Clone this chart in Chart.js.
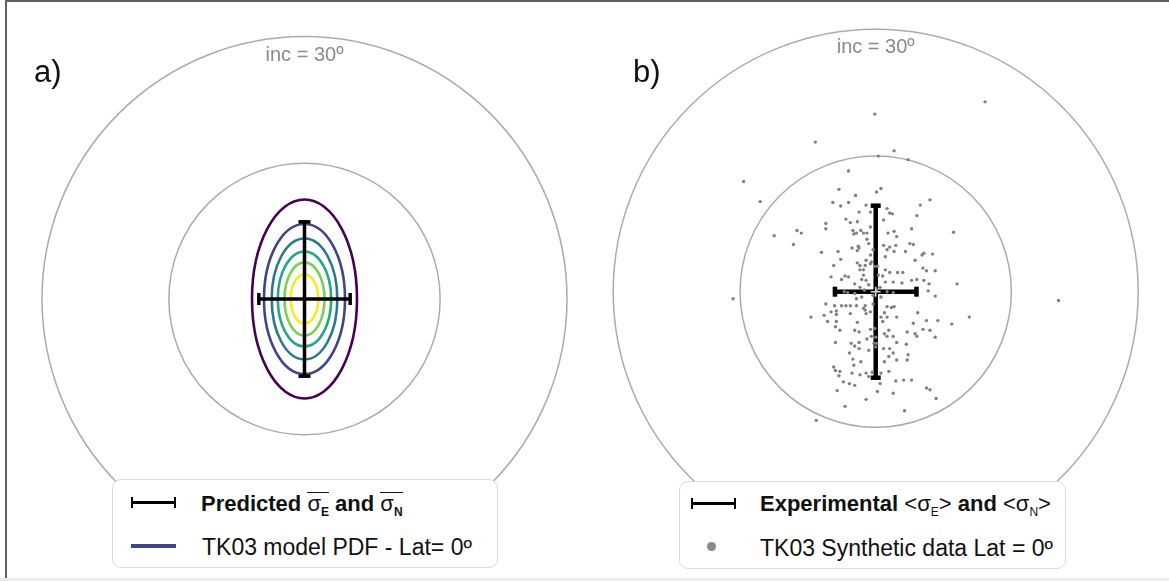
<!DOCTYPE html>
<html>
<head>
<meta charset="utf-8">
<script src="https://cdn.jsdelivr.net/npm/chart.js@4.4.0/dist/chart.umd.min.js"></script>
<style>
  html, body { margin: 0; padding: 0; background: #fff; }
  body { width: 1169px; height: 581px; position: relative; overflow: hidden; font-family: "Liberation Sans", Arial, sans-serif; }
  .frame { position: absolute; left: 5px; top: 0; width: 1164px; height: 578px; border-top: 2px solid #606060; border-left: 2px solid #606060; box-sizing: border-box; }
  .band { position: absolute; left: 0; top: 578px; width: 1169px; height: 3px; background: #ececec; }
  canvas { position: absolute; top: 0; }
  #chartA { left: 0; }
  #chartB { left: 585px; }
  .legend { position: absolute; background: #fff; border: 1.5px solid #dadada; border-radius: 9px; box-sizing: border-box; z-index: 2; }
  .txt { position: absolute; white-space: nowrap; color: #111; line-height: 22px; }
  .row1 { font-size: 22px; font-weight: bold; }
  .row2 { font-size: 23px; }
  .ol { display: inline-block; font-weight: normal; border-top: 1.5px solid #111; line-height: 17px; padding-top: 2px; }
  .ang { font-weight: normal; }
  sub { font-size: 12px; vertical-align: -5px; line-height: 0; }
  .ol sub { font-weight: bold; }
  .ebar { position: absolute; width: 45px; height: 11px; border-left: 2.5px solid #000; border-right: 2.5px solid #000; box-sizing: border-box; }
  .ebar::after { content: ""; position: absolute; left: 0; right: 0; top: 4px; height: 3px; background: #000; }
  .lsym { position: absolute; width: 45px; height: 4px; background: #414487; }
  .dsym { position: absolute; width: 9px; height: 9px; border-radius: 50%; background: #888; }
</style>
</head>
<body>
<div class="frame"></div>
<div class="band"></div>
<canvas id="chartA" width="585" height="581"></canvas>
<canvas id="chartB" width="584" height="581"></canvas>

<div class="legend" style="left:112px; top:479px; width:386px; height:89px;">
  <div class="ebar" style="left:18px; top:17px;"></div>
  <div class="txt row1" style="left:88px; top:12px;">Predicted <span class="ol">σ<sub>E</sub></span> and <span class="ol">σ<sub>N</sub></span></div>
  <div class="lsym" style="left:18px; top:64px;"></div>
  <div class="txt row2" style="left:89px; top:56px;">TK03 model PDF - Lat= 0º</div>
</div>

<div class="legend" style="left:679px; top:481px; width:387px; height:88px;">
  <div class="ebar" style="left:11px; top:16px;"></div>
  <div class="txt row1" style="left:80px; top:11px;">Experimental <span class="ang">&lt;σ<sub>E</sub>&gt;</span> and <span class="ang">&lt;σ<sub>N</sub>&gt;</span></div>
  <div class="dsym" style="left:27px; top:60px;"></div>
  <div class="txt row2" style="left:80px; top:55px;">TK03 Synthetic data Lat = 0º</div>
</div>

<script>
// Reference circles (degrees) and labels
const ringRadii = [30, 15.5];
const incLabel = 'inc = 30º';
const panelLabels = ['a)', 'b)'];

// Panel a: TK03 PDF contours, semi-axes east / north (deg)
const contourE = [6.0, 4.63, 3.75, 3.05, 2.29, 1.58];
const contourN = [11.37, 8.57, 6.91, 5.43, 4.19, 2.8];
const contourColors = ['#440154', '#414487', '#2a788e', '#22a884', '#7ad151', '#fde725'];

// Predicted and experimental dispersion (deg)
const predictedSigmaE = 5.22;
const predictedSigmaN = 8.82;
const experimentalSigmaE = 4.66;
const experimentalSigmaN = 9.83;

// Panel b: TK03 synthetic data, east / north components (deg)
const synthE = [
  -4.2, 0.1, 0.6, -2.3, -4.9, -3.1, -4.0, -1.1, 6.2, 5.1, 1.3, -1.9, -0.6, 1.6, 1.9, 4.7,
  -3.4, -2.9, -2.1, 0.9, -5.7, -5.7, -0.6, -2.6, -1.7, -2.5, -2.2, -1.4, -1.0, 1.4, 2.1, 2.4,
  4.1, 8.9, -9.0, -8.5, -11.6, -1.0, -0.8, -2.0, 0.9, 1.6, 2.3, 3.9, 4.3, -9.4, -2.7, -1.9,
  -2.1, -0.3, 1.3, 2.1, 3.4, 5.3, 5.5, 6.5, -6.2, -4.3, 1.1, -0.6, -4.0, -2.1, -1.1, -0.5,
  4.5, -4.8, -1.8, -1.2, -0.6, -0.1, 0.2, -1.8, -1.4, 1.1, 1.6, 2.5, 3.1, 5.4, 5.8, 6.8,
  -5.1, -3.5, -3.1, 0.3, 0.8, -1.4, -3.9, -1.6, -1.1, -2.4, 1.1, 2.0, 3.0, 4.1, 4.7, 5.5,
  6.1, 9.3, -0.8, -1.8, -1.3, 0.1, 0.5, 1.3, 2.0, -3.6, -3.2, 6.0, -2.4, -0.3, 0.6, -2.2,
  -1.6, 6.8, -5.7, -4.7, -3.9, -3.4, -2.9, -2.2, -1.2, -0.3, 1.3, 1.8, 2.1, -5.1, -4.5, -2.9,
  -1.2, -1.4, -7.4, 10.7, -5.9, -4.5, -1.1, -0.6, 1.0, 1.3, 0.6, 4.8, -4.5, -5.5, -2.1, 0.8,
  2.4, 4.3, 5.8, 7.1, 8.7, -4.6, -4.1, -2.4, -1.9, -0.6, -0.1, 1.5, 3.6, 4.5, 5.4, 6.2,
  1.0, 1.3, -0.5, 0.0, 2.0, 4.7, 6.8, -4.6, -2.8, -1.9, -1.0, 2.4, 3.5, 0.1, -0.2, -2.4,
  -1.9, 0.0, 0.9, 1.6, 2.0, 3.7, -3.0, -0.8, 1.5, -4.8, -2.6, -1.7, 1.0, 2.4, 3.6, -4.6,
  -4.1, -2.5, -2.7, -1.8, -1.1, -0.4, 0.6, 1.5, -4.2, -3.7, -3.0, -2.4, -0.8, 0.5, 2.3, 3.2,
  4.1, -4.4, 0.2, 2.0, 5.8, 6.2, 6.9, -1.1, -3.5, 3.3, -6.8,
  12.5, -0.1, -6.9, 2.1, 0.3, 3.7, -3.1, -15.1, -13.2, -16.3, 20.9
];
const synthN = [
  11.7, 11.4, 11.8, 11.0, 10.2, 10.2, 9.8, 9.9, 10.5, 9.9, 9.5, 9.1, 9.1, 9.0, 8.9, 8.7,
  8.3, 7.9, 8.0, 8.2, 7.8, 7.2, 7.4, 7.0, 7.0, 6.6, 6.7, 6.7, 6.7, 6.7, 6.9, 6.3,
  7.2, 6.8, 7.0, 6.7, 6.4, 6.0, 5.5, 5.2, 5.3, 5.1, 5.3, 5.5, 5.4, 5.4, 5.0, 5.0,
  4.7, 4.8, 4.8, 4.6, 4.6, 4.2, 4.4, 4.3, 4.5, 4.6, 4.0, 4.2, 3.7, 3.3, 3.6, 3.4,
  3.6, 3.0, 3.0, 3.0, 3.2, 2.9, 2.9, 2.5, 2.5, 2.5, 2.2, 2.2, 2.2, 2.7, 2.4, 2.4,
  1.7, 1.8, 1.7, 1.9, 1.8, 1.9, 1.4, 1.4, 1.3, 0.9, 1.1, 1.1, 1.0, 1.3, 1.4, 1.3,
  0.9, 0.9, 0.8, 0.5, 0.2, 0.2, 0.5, 0.0, -0.1, 0.0, -0.1, 0.1, -0.2, -0.4, -0.6, -0.8,
  -0.6, -0.5, -1.4, -1.6, -1.6, -1.6, -1.6, -1.6, -1.6, -1.4, -1.7, -1.8, -1.7, -2.3, -2.2, -2.5,
  -2.1, -1.9, -2.9, -2.9, -2.7, -2.6, -2.5, -2.3, -2.4, -2.9, -2.9, -2.4, -3.4, -3.4, -3.5, -3.4,
  -2.9, -3.6, -3.3, -3.3, -3.7, -4.0, -4.4, -4.4, -4.6, -4.3, -4.2, -4.4, -4.6, -4.8, -4.3, -4.4,
  -4.8, -5.1, -5.1, -5.2, -5.1, -5.1, -5.2, -5.8, -5.9, -5.8, -5.4, -5.8, -6.0, -5.9, -5.9, -6.2,
  -6.5, -6.3, -6.5, -6.5, -7.0, -7.2, -7.0, -6.7, -7.4, -8.6, -7.7, -8.0, -8.0, -7.8, -7.8, -9.0,
  -9.1, -8.4, -9.3, -9.5, -9.3, -9.2, -9.3, -9.1, -9.6, -10.3, -10.5, -10.7, -9.7, -10.5, -10.2, -10.1,
  -10.1, -11.3, -11.4, -11.6, -11.0, -11.2, -12.2, -12.3, -13.1, -13.6, -14.7,
  21.7, 20.3, 17.1, 16.1, 15.5, 15.1, 13.8, 12.6, 10.3, -0.8, -1.0
];

const PX_PER_DEG = 8.75;

// Circles, contour ellipses and panel texts drawn through the chart scales
const stereoPlugin = {
    id: 'stereo',
    beforeDatasetsDraw(chart, args, opts) {
        const { ctx } = chart;
        const xs = chart.scales.x;
        const ys = chart.scales.y;
        const x0 = xs.getPixelForValue(0);
        const y0 = ys.getPixelForValue(0);

        ctx.save();
        ctx.strokeStyle = '#ababab';
        ctx.lineWidth = 1.5;
        ringRadii.forEach(r => {
            const rx = xs.getPixelForValue(r) - x0;
            const ry = y0 - ys.getPixelForValue(r);
            ctx.beginPath();
            ctx.ellipse(x0, y0, rx, ry, 0, 0, 2 * Math.PI);
            ctx.stroke();
        });

        if (opts.contours) {
            ctx.lineWidth = 2.6;
            contourE.forEach((e, i) => {
                const rx = xs.getPixelForValue(e) - x0;
                const ry = y0 - ys.getPixelForValue(contourN[i]);
                ctx.strokeStyle = contourColors[i];
                ctx.beginPath();
                ctx.ellipse(x0, y0, rx, ry, 0, 0, 2 * Math.PI);
                ctx.stroke();
            });
        }

        // inc label just under the outer circle
        ctx.fillStyle = '#8a8a8a';
        ctx.font = '20px "Liberation Sans", Arial, sans-serif';
        ctx.textAlign = 'center';
        ctx.textBaseline = 'alphabetic';
        ctx.fillText(incLabel, x0, ys.getPixelForValue(ringRadii[0]) + 24);

        // panel letter
        ctx.fillStyle = '#111';
        ctx.font = '31px "Liberation Sans", Arial, sans-serif';
        ctx.textAlign = 'left';
        ctx.fillText(opts.label, opts.labelX, opts.labelY);
        ctx.restore();
    }
};

function errorBars(sigE, sigN, width, cap) {
    const common = {
        showLine: true,
        borderColor: '#000',
        borderWidth: width,
        pointStyle: 'line',
        pointRadius: cap,
        pointHoverRadius: cap,
        pointBorderColor: '#000',
        pointBorderWidth: width,
        order: 2
    };
    return [
        Object.assign({ data: [{ x: 0, y: -sigN }, { x: 0, y: sigN }], pointRotation: 0 }, common),
        Object.assign({ data: [{ x: -sigE, y: 0 }, { x: sigE, y: 0 }], pointRotation: 90 }, common)
    ];
}

function makePanel(canvasId, width, height, cx, cy, datasets, pluginOpts) {
    return new Chart(document.getElementById(canvasId), {
        type: 'scatter',
        data: { datasets: datasets },
        options: {
            responsive: false,
            animation: false,
            layout: { padding: 0, autoPadding: false },
            plugins: {
                legend: { display: false },
                tooltip: { enabled: false },
                stereo: pluginOpts
            },
            scales: {
                x: { type: 'linear', display: false, min: -cx / PX_PER_DEG, max: (width - cx) / PX_PER_DEG },
                y: { type: 'linear', display: false, min: -(height - cy) / PX_PER_DEG, max: cy / PX_PER_DEG }
            }
        },
        plugins: [stereoPlugin]
    });
}

// Panel a
makePanel('chartA', 585, 581, 304.5, 299,
    errorBars(predictedSigmaE, predictedSigmaN, 3.5, 6),
    { contours: true, label: panelLabels[0], labelX: 34, labelY: 82 });

// Panel b
const synthPoints = synthE.map((e, i) => ({ x: e, y: synthN[i] }));
makePanel('chartB', 584, 581, 290.7, 291.7,
    [
        {
            data: [{ x: 0, y: 0 }],
            pointStyle: 'cross',
            pointRadius: 5,
            pointBorderColor: '#d6d6d6',
            pointBorderWidth: 1.5,
            order: 0
        },
        {
            data: synthPoints,
            pointRadius: 1.7,
            pointBackgroundColor: '#808080',
            pointBorderWidth: 0,
            order: 1
        }
    ].concat(errorBars(experimentalSigmaE, experimentalSigmaN, 4.5, 5)),
    { contours: false, label: panelLabels[1], labelX: 48, labelY: 82 });
</script>
</body>
</html>
